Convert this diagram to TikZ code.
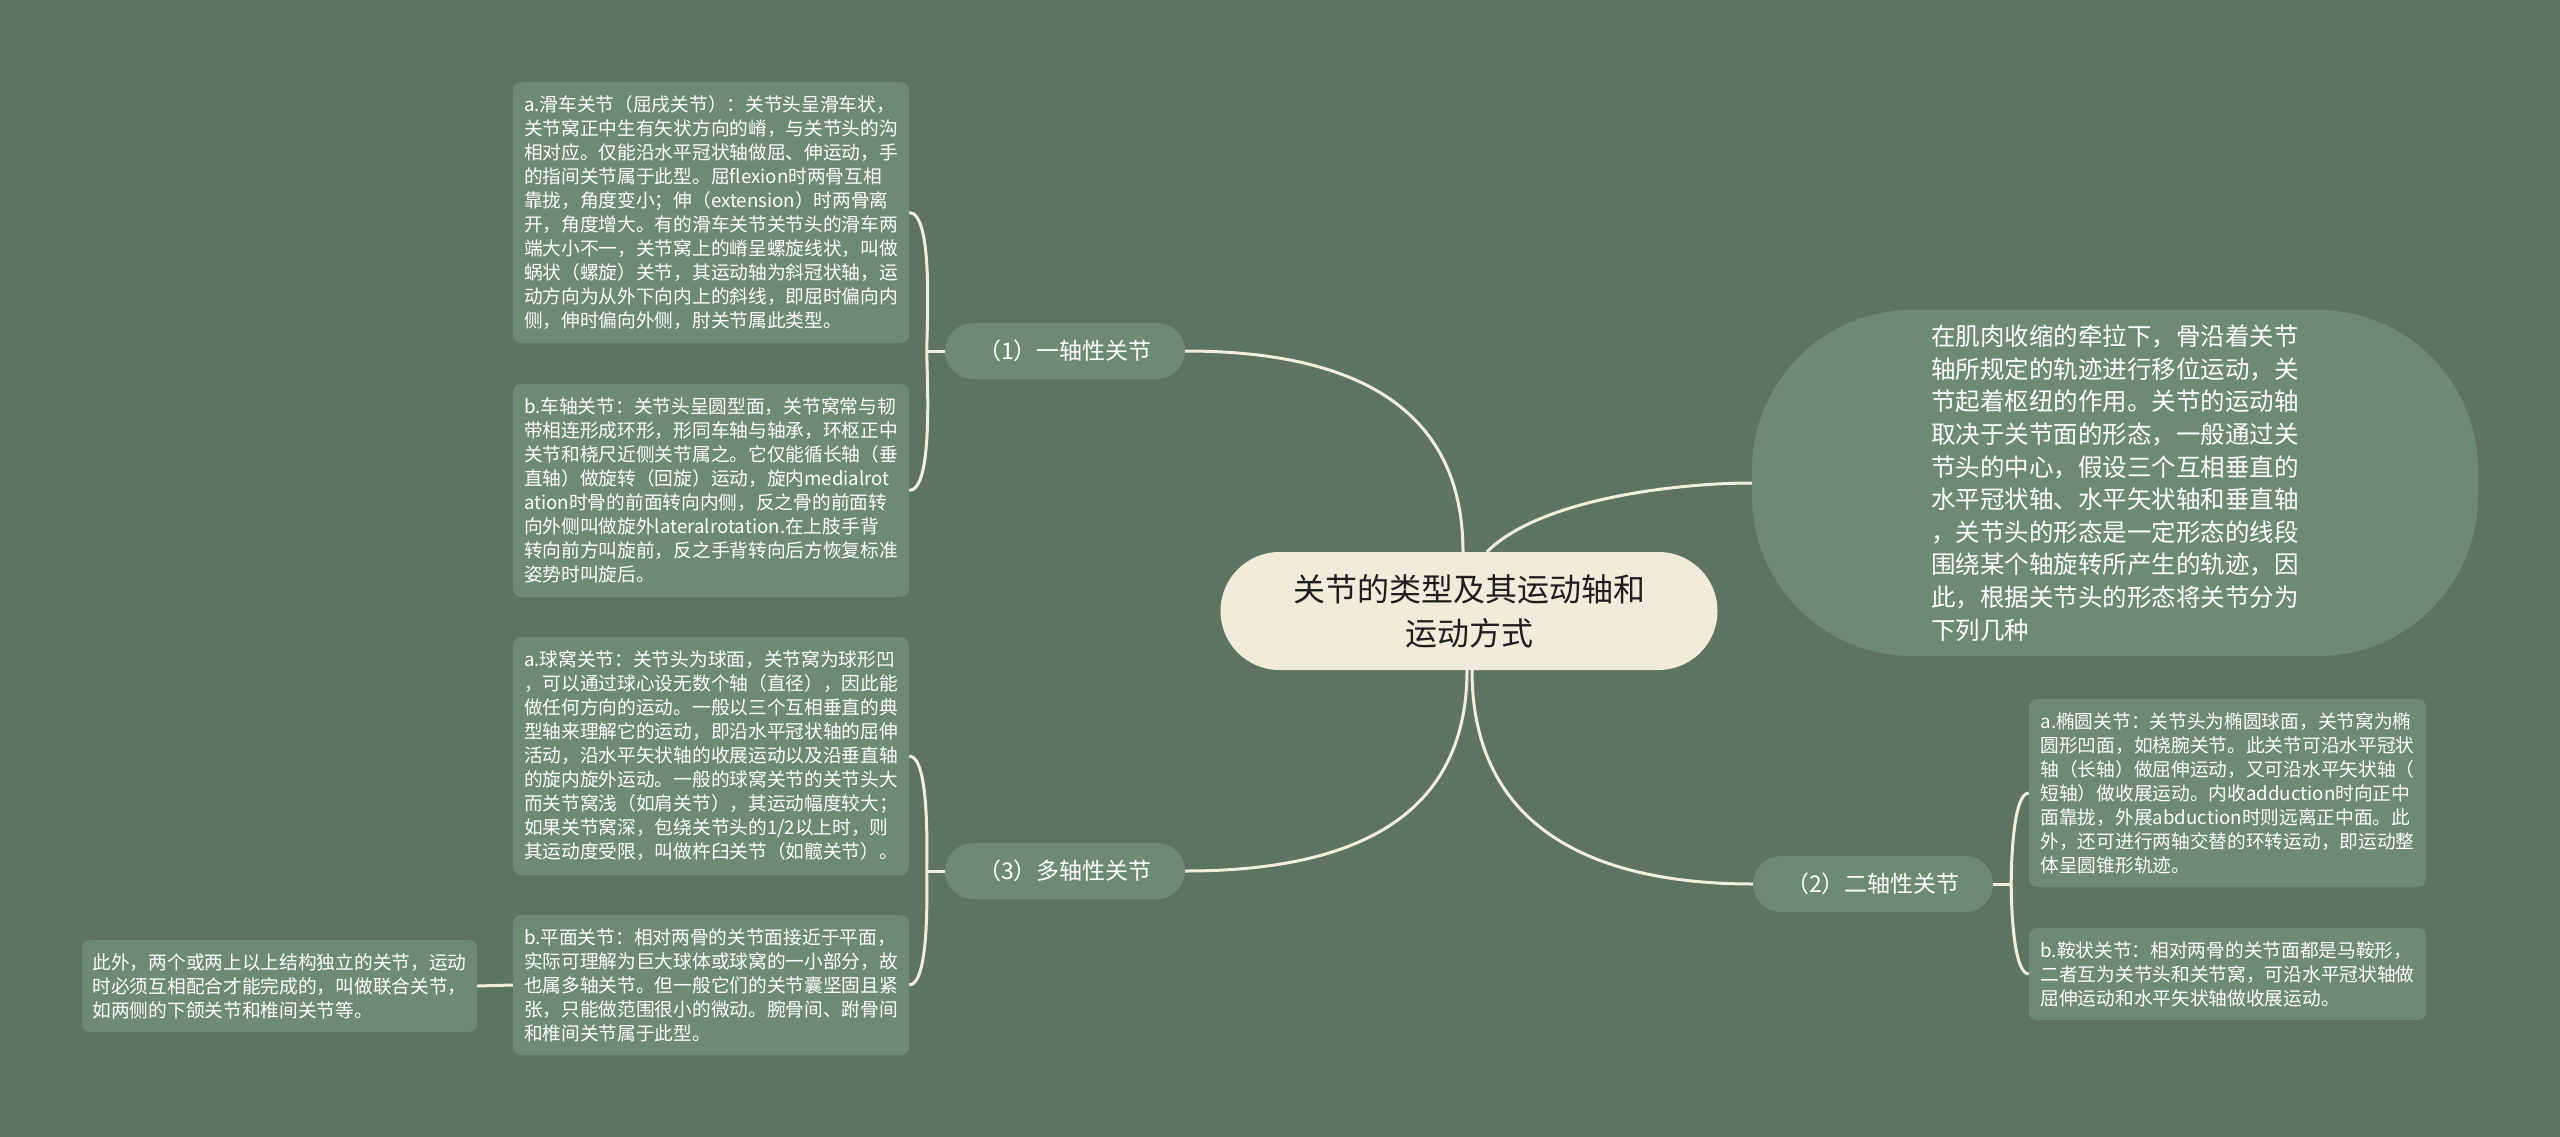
\documentclass[tikz,border=0pt]{standalone}
\usepackage{fontspec}
\setmainfont{Noto Sans CJK SC}
\usepackage{tikz}
\usetikzlibrary{positioning}
\definecolor{bgc}{HTML}{5F7362}
\definecolor{boxfill}{HTML}{6E8A74}
\definecolor{hubfill}{HTML}{F0EBDB}
\definecolor{hubtext}{HTML}{1E1E1E}
\definecolor{linec}{HTML}{F2EEDD}

\begin{document}
\begin{tikzpicture}[x=1pt,y=1pt,
    hub/.style={fill=hubfill,text=hubtext,rounded corners=59pt,minimum width=497pt,minimum height=118pt,align=center,font=\fontsize{32}{44}\selectfont},
    intro/.style={fill=boxfill,text=white,rounded corners=160pt,minimum width=726pt,minimum height=346pt,align=left,font=\fontsize{24.5}{32.6}\selectfont},
    branch/.style={fill=boxfill,text=white,rounded corners=28pt,minimum width=240pt,minimum height=56pt,font=\fontsize{23}{28}\selectfont},
    leaf/.style={fill=boxfill,text=white,rounded corners=8pt,minimum width=396pt,align=left,inner xsep=10pt,inner ysep=0pt,font=\fontsize{18.7}{24}\selectfont},
    link/.style={draw=linec,line width=3pt}]
  \fill[bgc] (0,0) rectangle (2560,-1137);
  \useasboundingbox (0,0) rectangle (2560,-1137);

  % centre and first level
  \node[hub](hub)at(1469,-611){关节的类型及其运动轴和\\运动方式};
  \node[intro](big)at(2115,-483){在肌肉收缩的牵拉下，骨沿着关节\\轴所规定的轨迹进行移位运动，关\\节起着枢纽的作用。关节的运动轴\\取决于关节面的形态，一般通过关\\节头的中心，假设三个互相垂直的\\水平冠状轴、水平矢状轴和垂直轴\\，关节头的形态是一定形态的线段\\围绕某个轴旋转所产生的轨迹，因\\此，根据关节头的形态将关节分为\\下列几种};
  \node[branch](one)at(1065,-351){（1）一轴性关节};
  \node[branch](two)at(1873,-884){（2）二轴性关节};
  \node[branch](many)at(1065,-871){（3）多轴性关节};

  % leaves
  \node[leaf,minimum height=261pt](one1)at(711,-212.5){a.滑车关节（屈戌关节）：关节头呈滑车状，\\关节窝正中生有矢状方向的嵴，与关节头的沟\\相对应。仅能沿水平冠状轴做屈、伸运动，手\\的指间关节属于此型。屈flexion时两骨互相\\靠拢，角度变小；伸（extension）时两骨离\\开，角度增大。有的滑车关节关节头的滑车两\\端大小不一，关节窝上的嵴呈螺旋线状，叫做\\蜗状（螺旋）关节，其运动轴为斜冠状轴，运\\动方向为从外下向内上的斜线，即屈时偏向内\\侧，伸时偏向外侧，肘关节属此类型。};
  \node[leaf,minimum height=213pt](one2)at(711,-490.5){b.车轴关节：关节头呈圆型面，关节窝常与韧\\带相连形成环形，形同车轴与轴承，环枢正中\\关节和桡尺近侧关节属之。它仅能循长轴（垂\\直轴）做旋转（回旋）运动，旋内medialrot\\ation时骨的前面转向内侧，反之骨的前面转\\向外侧叫做旋外lateralrotation.在上肢手背\\转向前方叫旋前，反之手背转向后方恢复标准\\姿势时叫旋后。};
  \node[leaf,minimum height=238pt](many1)at(711,-756){a.球窝关节：关节头为球面，关节窝为球形凹\\，可以通过球心设无数个轴（直径），因此能\\做任何方向的运动。一般以三个互相垂直的典\\型轴来理解它的运动，即沿水平冠状轴的屈伸\\活动，沿水平矢状轴的收展运动以及沿垂直轴\\的旋内旋外运动。一般的球窝关节的关节头大\\而关节窝浅（如肩关节），其运动幅度较大；\\如果关节窝深，包绕关节头的1/2以上时，则\\其运动度受限，叫做杵臼关节（如髋关节）。};
  \node[leaf,minimum height=140pt](many2)at(711,-985){b.平面关节：相对两骨的关节面接近于平面，\\实际可理解为巨大球体或球窝的一小部分，故\\也属多轴关节。但一般它们的关节囊坚固且紧\\张，只能做范围很小的微动。腕骨间、跗骨间\\和椎间关节属于此型。};
  \node[leaf,minimum width=395pt,minimum height=92pt](many3)at(279.5,-986){此外，两个或两上以上结构独立的关节，运动\\时必须互相配合才能完成的，叫做联合关节，\\如两侧的下颌关节和椎间关节等。};
  \node[leaf,minimum width=397pt,minimum height=188pt](two1)at(2227.5,-793){a.椭圆关节：关节头为椭圆球面，关节窝为椭\\圆形凹面，如桡腕关节。此关节可沿水平冠状\\轴（长轴）做屈伸运动，又可沿水平矢状轴（\\短轴）做收展运动。内收adduction时向正中\\面靠拢，外展abduction时则远离正中面。此\\外，还可进行两轴交替的环转运动，即运动整\\体呈圆锥形轨迹。};
  \node[leaf,minimum width=397pt,minimum height=92pt](two2)at(2227.5,-974){b.鞍状关节：相对两骨的关节面都是马鞍形，\\二者互为关节头和关节窝，可沿水平冠状轴做\\屈伸运动和水平矢状轴做收展运动。};

  % connectors
  \draw[link] (one.east) to[out=0,in=90,looseness=1.15] ([xshift=-6pt]hub.north);
  \draw[link] ([xshift=18pt]hub.north) to[out=45,in=180,looseness=0.7] (big.west);
  \draw[link] (many.east) to[out=0,in=-90,looseness=1.15] ([xshift=-2pt]hub.south);
  \draw[link] ([xshift=3pt]hub.south) to[out=-90,in=180,looseness=1.15] (two.west);

  \coordinate[left=18pt of one] (j1);
  \draw[link] (one.west) -- (j1);
  \draw[link] (j1) to[out=90,in=0,looseness=0.45] (one1.east);
  \draw[link] (j1) to[out=-90,in=0,looseness=0.45] (one2.east);

  \coordinate[left=18pt of many] (j3);
  \draw[link] (many.west) -- (j3);
  \draw[link] (j3) to[out=90,in=0,looseness=0.45] (many1.east);
  \draw[link] (j3) to[out=-90,in=0,looseness=0.45] (many2.east);
  \draw[link] (many2.west) -- (many3.east);

  \coordinate[right=18pt of two] (j2);
  \draw[link] (two.east) -- (j2);
  \draw[link] (j2) to[out=90,in=180,looseness=0.45] (two1.west);
  \draw[link] (j2) to[out=-90,in=180,looseness=0.45] (two2.west);
\end{tikzpicture}
\end{document}
